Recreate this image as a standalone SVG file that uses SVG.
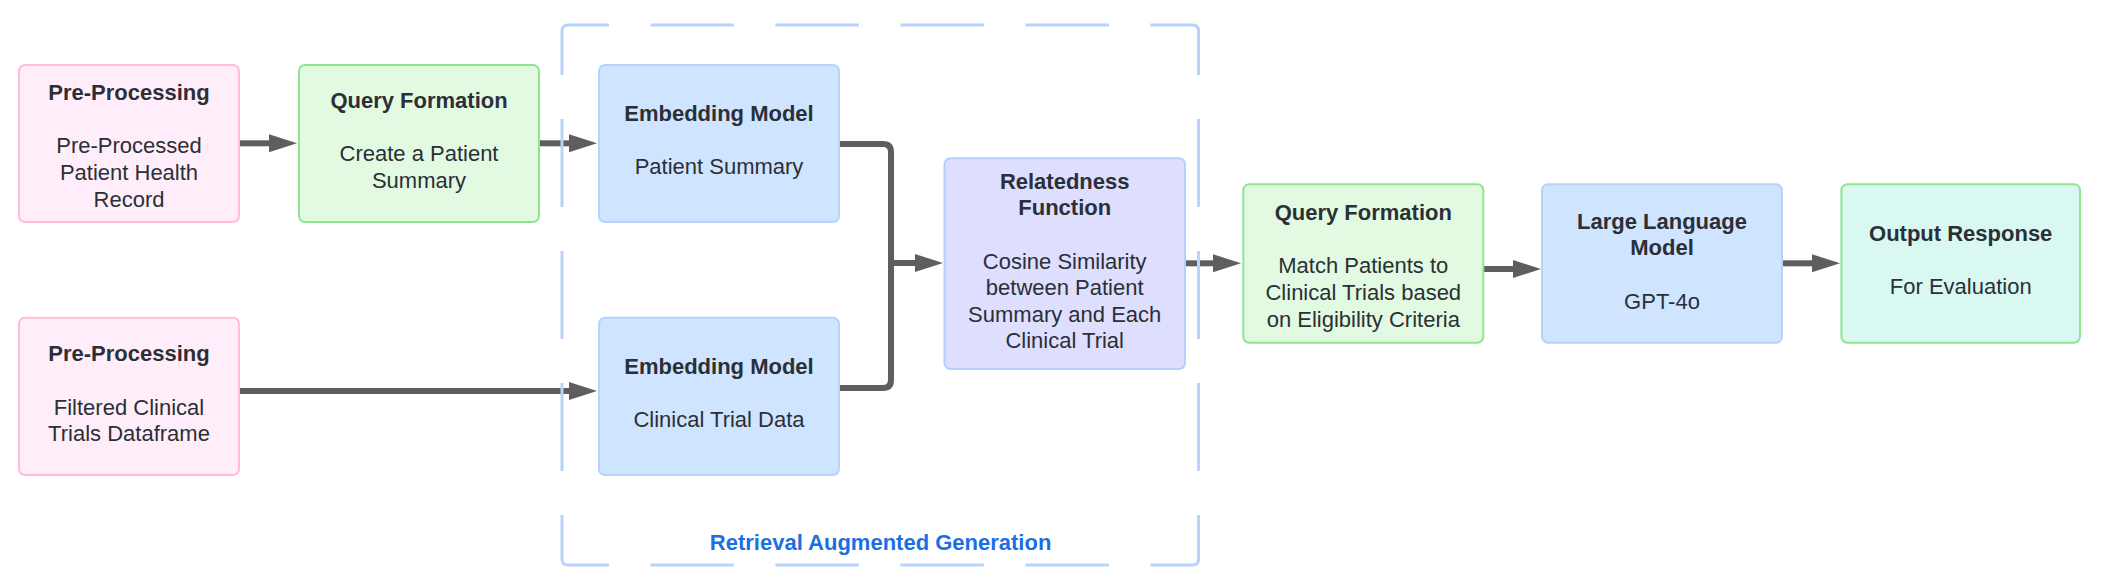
<svg xmlns="http://www.w3.org/2000/svg" width="2106" height="584" viewBox="0 0 2106 584">
<style>
.box{stroke-width:2}
.pink{fill:#ffeef9;stroke:#ffbcdc}
.green{fill:#e2fae2;stroke:#8fe68f}
.blue{fill:#cfe4ff;stroke:#b5d4fc}
.lav{fill:#dedeff;stroke:#b5d0fc}
.mint{fill:#d8f8f1;stroke:#8fe68f}
text{font-family:"Liberation Sans",Arial,sans-serif;font-size:22px;text-anchor:middle;fill:#2b2f36}
.t{font-weight:bold}
.conn{fill:none;stroke:#5e5e5e;stroke-width:6}
.arr{marker-end:url(#ah)}
.dash{fill:none;stroke:#b8d4fc;stroke-width:3}
.hz{stroke-dasharray:83.5 41.5;stroke-dashoffset:33.1}
.vt{stroke-dasharray:88 44;stroke-dashoffset:44}
.rag{font-weight:bold;fill:#1a6fe3}
</style>
<defs>
<marker id="ah" markerUnits="userSpaceOnUse" markerWidth="30" markerHeight="20" refX="0" refY="9" orient="auto" viewBox="0 0 30 20">
<path d="M0,0 L28,9 L0,18 z" fill="#5e5e5e"/>
</marker>
</defs>

<g id="connectors">
<path class="conn arr" d="M239,143.3 L269,143.3"/>
<path class="conn arr" d="M539,143.3 L569,143.3"/>
<path class="conn arr" d="M239,391 L569,391"/>
<path class="conn arr" d="M839,144 L883,144 Q891,144 891,152 L891,263 L915,263"/>
<path class="conn" d="M839,388 L883,388 Q891,388 891,380 L891,263"/>
<path class="conn arr" d="M1185,263.3 L1213,263.3"/>
<path class="conn arr" d="M1483,269 L1513,269"/>
<path class="conn arr" d="M1782,263.3 L1812,263.3"/>
</g>

<g id="pre-processing-1">
<rect class="box pink" x="19" y="65" width="220" height="157" rx="6"/>
<text class="t" x="129" y="99.7">Pre-Processing</text>
<text x="129" y="153">Pre-Processed</text>
<text x="129" y="179.7">Patient Health</text>
<text x="129" y="207">Record</text>
</g>

<g id="query-formation-1">
<rect class="box green" x="299" y="65" width="240" height="157" rx="6"/>
<text class="t" x="419" y="108">Query Formation</text>
<text x="419" y="161.3">Create a Patient</text>
<text x="419" y="188">Summary</text>
</g>

<g id="embedding-model-1">
<rect class="box blue" x="599" y="65" width="240" height="157" rx="6"/>
<text class="t" x="719" y="120.7">Embedding Model</text>
<text x="719" y="174">Patient Summary</text>
</g>

<g id="pre-processing-2">
<rect class="box pink" x="19" y="317.7" width="220" height="157.3" rx="6"/>
<text class="t" x="129" y="361.3">Pre-Processing</text>
<text x="129" y="414.7">Filtered Clinical</text>
<text x="129" y="441.3">Trials Dataframe</text>
</g>

<g id="embedding-model-2">
<rect class="box blue" x="599" y="317.7" width="240" height="157.3" rx="6"/>
<text class="t" x="719" y="374">Embedding Model</text>
<text x="719" y="427.3">Clinical Trial Data</text>
</g>

<g id="relatedness-function">
<rect class="box lav" x="944.5" y="158.3" width="240.5" height="210.7" rx="6"/>
<text class="t" x="1064.7" y="189">Relatedness</text>
<text class="t" x="1064.7" y="215.3">Function</text>
<text x="1064.7" y="269">Cosine Similarity</text>
<text x="1064.7" y="294.7">between Patient</text>
<text x="1064.7" y="322">Summary and Each</text>
<text x="1064.7" y="348">Clinical Trial</text>
</g>

<g id="query-formation-2">
<rect class="box green" x="1243.3" y="184.3" width="240" height="158.4" rx="6"/>
<text class="t" x="1363.3" y="219.7">Query Formation</text>
<text x="1363.3" y="273">Match Patients to</text>
<text x="1363.3" y="299.7">Clinical Trials based</text>
<text x="1363.3" y="327">on Eligibility Criteria</text>
</g>

<g id="large-language-model">
<rect class="box blue" x="1542" y="184.3" width="240" height="158.4" rx="6"/>
<text class="t" x="1662" y="228.7">Large Language</text>
<text class="t" x="1662" y="254.7">Model</text>
<text x="1662" y="308.7">GPT-4o</text>
</g>

<g id="output-response">
<rect class="box mint" x="1841.4" y="184.3" width="238.6" height="158.4" rx="6"/>
<text class="t" x="1960.7" y="240.7">Output Response</text>
<text x="1960.7" y="294">For Evaluation</text>
</g>

<g id="rag-group">
<path class="dash hz" d="M562,31 Q562,25 568,25 L1192.5,25 Q1198.5,25 1198.5,31"/>
<path class="dash hz" d="M562,559 Q562,565 568,565 L1192.5,565 Q1198.5,565 1198.5,559"/>
<path class="dash vt" d="M562,31 L562,559"/>
<path class="dash vt" d="M1198.5,31 L1198.5,559"/>
<text class="rag" x="880.6" y="549.7">Retrieval Augmented Generation</text>
</g>
</svg>
